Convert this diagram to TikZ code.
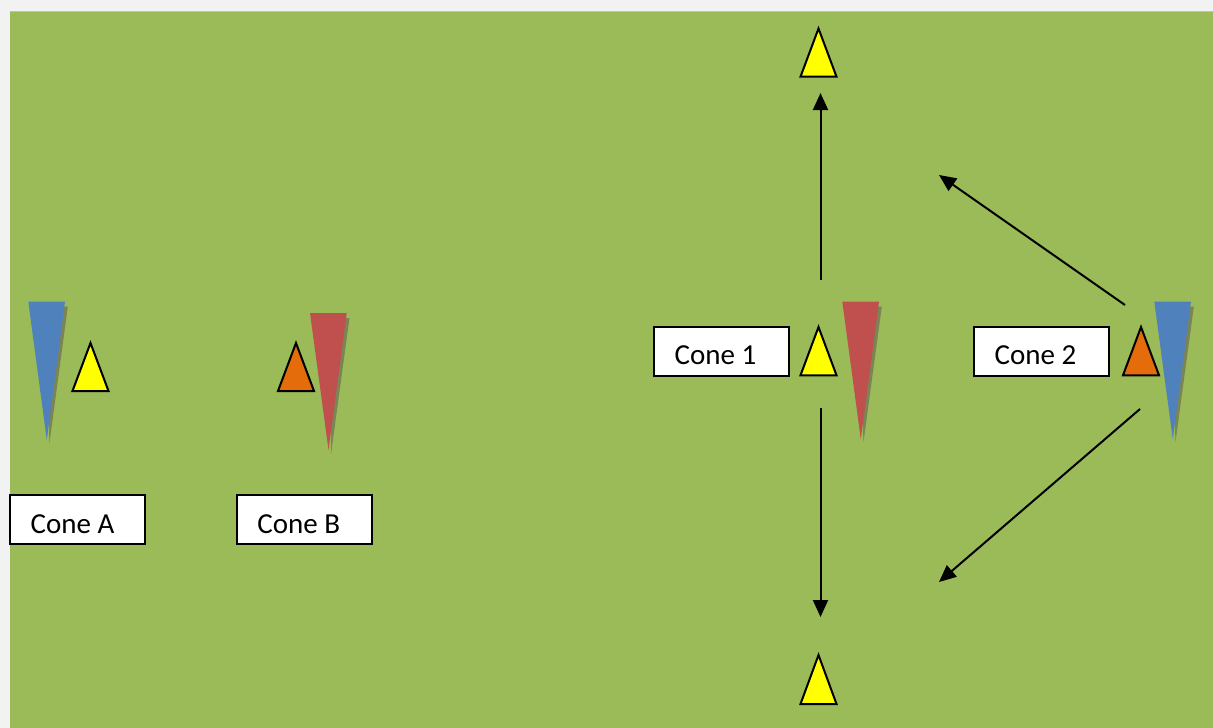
\documentclass[tikz,border=0pt]{standalone}
\usepackage{fontspec}
\setmainfont{Carlito}
\usetikzlibrary{arrows.meta}
\definecolor{pitch}{HTML}{9BBB59}
\definecolor{page}{HTML}{F2F2F2}
\definecolor{flagblue}{HTML}{4F81BD}
\definecolor{flagred}{HTML}{C0504D}
\definecolor{coneorange}{HTML}{E46C0A}
\definecolor{coneyellow}{HTML}{FFFF00}
\definecolor{flagshadow}{HTML}{7A8455}
\tikzset{
  cone/.style={draw=black, line width=2pt, line join=miter},
  labelbox/.style={draw=black, line width=2pt, fill=white, minimum width=135pt, minimum height=49pt, inner sep=0pt},
  labeltext/.style={font=\fontsize{29}{31}\selectfont, inner sep=0pt, anchor=base west},
  run/.style={line width=2pt, -{Triangle[length=17pt,width=15pt]}}
}
% cone: #1 colour, #2 apex x, #3 apex y, #4 base y
\newcommand{\drawcone}[4]{\filldraw[cone, fill=#1] (#2,#3) -- (#2-18,#4) -- (#2+18,#4) -- cycle;}
% flag: #1 colour, #2 left x, #3 top y, #4 tip y
\newcommand{\drawflag}[4]{%
  \fill[flagshadow] (#2+20,#3+5) -- (#2+39.5,#3+5) -- (#2+21,#4+4) -- cycle;
  \fill[#1] (#2,#3) -- (#2+36.7,#3) -- (#2+18.5,#4) -- cycle;}
% label box whose text is cut by the bottom of its frame
\newcommand{\conelabel}[4]{%
  \node[labelbox] (#1) at (#2+67.5,#3+24.5) {};
  \begin{scope}
    \clip (#2,#3) rectangle (#2+135,#3+38);
    \node[labeltext] at (#2+20.5,#3+38) {#4};
  \end{scope}}
\begin{document}
\begin{tikzpicture}[x=1pt,y=-1pt]
  \useasboundingbox (0,0) rectangle (1213,728);
  \fill[page] (0,0) rectangle (1213,728);
  \fill[pitch] (10,11) rectangle (1213,728);
  \draw[pitch!70!white, line width=0.8pt] (10,11.4) -- (1213,11.4);

  % starting gates A and B
  \drawflag{flagblue}{28.3}{301.7}{440}
  \drawcone{coneyellow}{90.5}{343}{391}
  \drawcone{coneorange}{296}{343}{391}
  \drawflag{flagred}{310}{313}{450}
  \conelabel{coneA}{10}{495}{Cone A}
  \conelabel{coneB}{236.7}{495}{Cone B}

  % centre gate 1
  \conelabel{coneOne}{654}{326.7}{Cone 1}
  \drawcone{coneyellow}{818.5}{327}{375.3}
  \drawflag{flagred}{842.3}{301.7}{439.3}

  % right gate 2
  \conelabel{coneTwo}{974}{326.7}{Cone 2}
  \drawcone{coneorange}{1141}{327}{375.3}
  \drawflag{flagblue}{1154.3}{301.7}{439.3}

  % target cones
  \drawcone{coneyellow}{818.5}{28.5}{76.7}
  \drawcone{coneyellow}{818.5}{655}{704}

  % run lines
  \coordinate (upStart) at (820.5,280);
  \coordinate (upEnd) at (820.5,93);
  \coordinate (downStart) at (820.5,408);
  \coordinate (downEnd) at (820.5,617);
  \coordinate (diagUpStart) at (1125,305);
  \coordinate (diagUpEnd) at (939,175);
  \coordinate (diagDownStart) at (1140,409);
  \coordinate (diagDownEnd) at (939,582);
  \draw[run] (upStart) -- (upEnd);
  \draw[run] (downStart) -- (downEnd);
  \draw[run] (diagUpStart) -- (diagUpEnd);
  \draw[run] (diagDownStart) -- (diagDownEnd);
\end{tikzpicture}
\end{document}
